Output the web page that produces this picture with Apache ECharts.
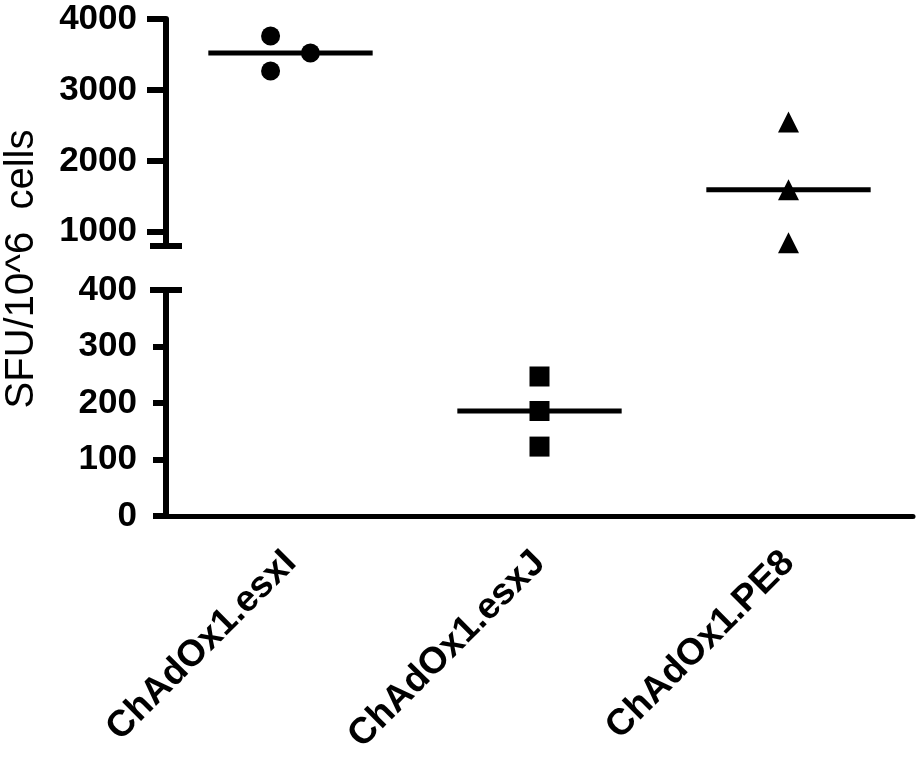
<!DOCTYPE html>
<html>
<head>
<meta charset="utf-8">
<script src="https://cdn.jsdelivr.net/npm/echarts@6/dist/echarts.min.js"></script>
<style>
  html, body { margin: 0; padding: 0; background: #fff; }
  #chart { width: 916px; height: 757px; }
</style>
</head>
<body>
<div id="chart"></div>
<script>
// groups on the x axis
var categories = ['ChAdOx1.esxI', 'ChAdOx1.esxJ', 'ChAdOx1.PE8'];

// SFU per 10^6 cells
var esxI = [3760, 3268, 3521];
var esxIJitter = [-0.08, -0.08, 0.08];   // column scatter spread
var esxJ = [247, 186, 123];
var pe8 = [2549, 1592, 845];

// broken y axis: upper and lower segment ticks
var upperTicks = [1000, 2000, 3000, 4000];
var lowerTicks = [0, 100, 200, 300, 400];

var FONT = '"Liberation Sans", Arial, Helvetica, sans-serif';
var HALF = 0.33; // half width of the median bar, in category units

function median(arr) {
    var s = arr.slice().sort(function (a, b) { return a - b; });
    var m = Math.floor(s.length / 2);
    return s.length % 2 ? s[m] : (s[m - 1] + s[m]) / 2;
}

function points(vals, pos, jitter) {
    return vals.map(function (v, i) {
        return [pos + (jitter ? jitter[i] : 0), v];
    });
}

function medianLine(vals, pos, xIdx, yIdx) {
    var m = median(vals);
    return {
        type: 'line',
        xAxisIndex: xIdx,
        yAxisIndex: yIdx,
        data: [[pos - HALF, m], [pos + HALF, m]],
        symbol: 'none',
        silent: true,
        lineStyle: { color: '#000', width: 5 },
        z: 3
    };
}

var chart = echarts.init(document.getElementById('chart'));

var labelStyle = {
    color: '#000',
    fontFamily: FONT,
    fontWeight: 'bold',
    fontSize: 35,
    formatter: function (v) { return String(v); }
};

var dot = { color: '#000', opacity: 1 };

var option = {
    animation: false,
    backgroundColor: '#fff',
    grid: [
        { left: 166, right: 3, top: 19, height: 227 },
        { left: 166, right: 3, top: 290, height: 228 }
    ],
    xAxis: [
        // upper segment: positions only
        { type: 'value', gridIndex: 0, min: 0.5, max: 3.5, show: false },
        // lower segment: visible category axis
        {
            type: 'category', gridIndex: 1, data: categories,
            axisLine: { lineStyle: { color: '#000', width: 5 } },
            axisTick: { alignWithLabel: true, length: 13, lineStyle: { color: '#000', width: 5 } },
            axisLabel: {
                color: '#000', fontFamily: FONT, fontWeight: 'bold',
                fontSize: 37, rotate: 45, margin: 41
            },
            splitLine: { show: false }
        },
        { type: 'value', gridIndex: 1, min: 0.5, max: 3.5, show: false }
    ],
    yAxis: [
        {
            type: 'value', gridIndex: 0, min: 800, max: 4000,
            axisLine: { show: true, lineStyle: { color: '#000', width: 6 } },
            axisTick: { show: true, length: 19, customValues: upperTicks, lineStyle: { color: '#000', width: 6 } },
            axisLabel: Object.assign({}, labelStyle, { margin: 29, customValues: upperTicks }),
            splitLine: { show: false }
        },
        {
            type: 'value', gridIndex: 1, min: 0, max: 400,
            axisLine: { show: true, lineStyle: { color: '#000', width: 6 } },
            axisTick: { show: true, length: 13, customValues: lowerTicks, lineStyle: { color: '#000', width: 6 } },
            axisLabel: Object.assign({}, labelStyle, { margin: 29, customValues: lowerTicks }),
            splitLine: { show: false }
        }
    ],
    series: [
        {
            type: 'scatter', xAxisIndex: 0, yAxisIndex: 0,
            symbol: 'circle', symbolSize: 19,
            itemStyle: dot,
            data: points(esxI, 1, esxIJitter)
        },
        {
            type: 'scatter', xAxisIndex: 0, yAxisIndex: 0,
            symbol: 'triangle', symbolSize: 21,
            itemStyle: dot,
            data: points(pe8, 3)
        },
        {
            type: 'scatter', xAxisIndex: 2, yAxisIndex: 1,
            symbol: 'rect', symbolSize: 20,
            itemStyle: dot,
            data: points(esxJ, 2)
        },
        medianLine(esxI, 1, 0, 0),
        medianLine(pe8, 3, 0, 0),
        medianLine(esxJ, 2, 2, 1)
    ]
};

chart.setOption(option);

// axis break caps, placed through the axis scales
var capHalf = 16;
var upperEnd = chart.convertToPixel({ seriesIndex: 0 }, [0.5, 800]);
var lowerTop = chart.convertToPixel({ seriesIndex: 2 }, [0.5, 400]);
var caps = [upperEnd, lowerTop].map(function (p) {
    return {
        type: 'line',
        shape: { x1: p[0] - capHalf, y1: p[1], x2: p[0] + capHalf, y2: p[1] },
        style: { stroke: '#000', lineWidth: 6 },
        z: 10
    };
});

chart.setOption({
    graphic: caps.concat([{
        type: 'text',
        x: 22,
        y: 269,
        rotation: Math.PI / 2,
        style: {
            text: 'SFU/10^6  cells',
            fill: '#000',
            font: '40px ' + FONT,
            align: 'center',
            verticalAlign: 'middle'
        }
    }])
});
</script>
</body>
</html>
